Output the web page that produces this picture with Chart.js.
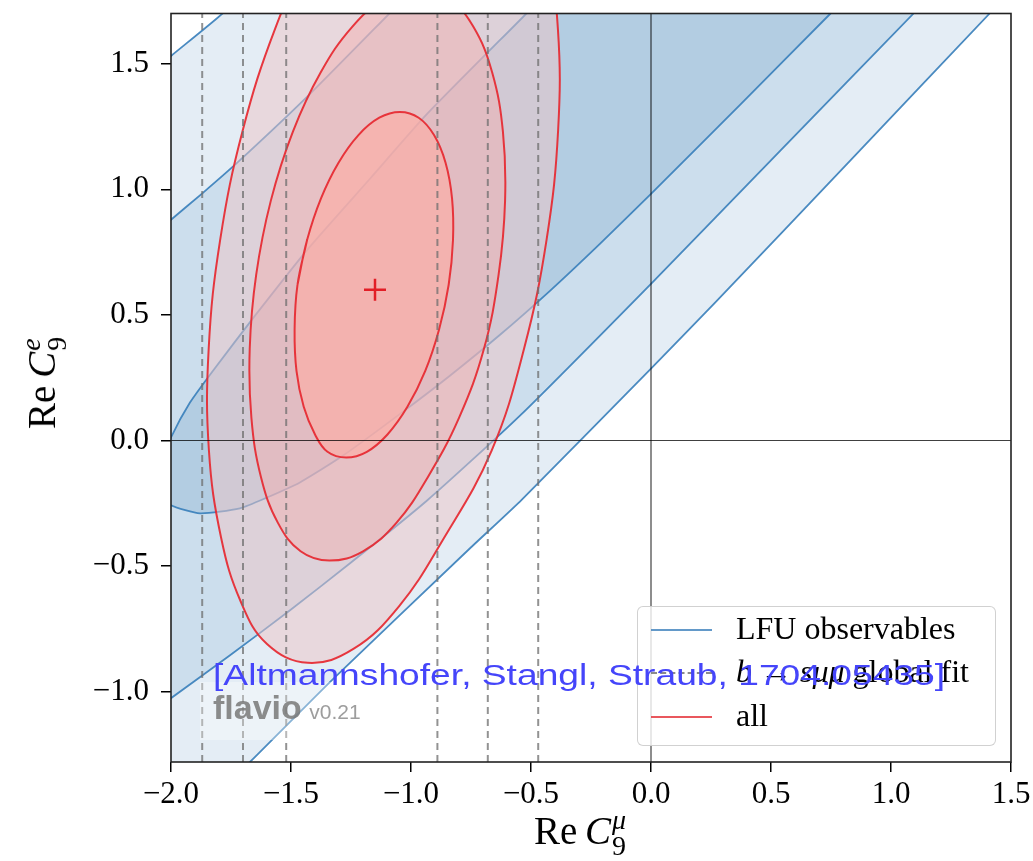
<!DOCTYPE html>
<html>
<head>
<meta charset="utf-8">
<script src="https://cdn.jsdelivr.net/npm/chart.js@4.4.1/dist/chart.umd.min.js"></script>
<style>
  body { margin: 0; background: #fff; }
  #wrap { position: relative; width: 1033px; height: 861px; }
  canvas { position: absolute; left: 0; top: 0; }
  .serif { font-family: "Liberation Serif", "DejaVu Serif", serif; color: #000; }
  #xtitle { position: absolute; left: 150px; width: 860px; top: 807px; text-align: center; font-size: 39px; line-height: 46px; white-space: nowrap; }
  #ytitle { position: absolute; left: 44px; top: 383px; transform: translate(-50%, -50%) rotate(-90deg); font-size: 39px; line-height: 46px; white-space: nowrap; }
  .ss { display: inline-block; vertical-align: -11px; font-size: 28px; line-height: 26px; margin-left: 1px; text-align: left; }
  .ss span { display: block; }
  #legend { position: absolute; left: 637px; top: 606px; width: 357px; height: 138px; border: 1px solid rgba(204,204,204,0.9); border-radius: 6px; background: rgba(255,255,255,0.8); }
  .row { position: absolute; left: 0; width: 100%; height: 0; }
  .swatch { position: absolute; left: 13px; width: 61px; top: -1px; height: 0; }
  .lab { position: absolute; left: 98px; top: -20px; font-size: 32px; line-height: 36px; white-space: nowrap; }
  #cite { position: absolute; left: 213px; top: 660px; font-family: "Liberation Sans", Arial, sans-serif; font-size: 30px; line-height: 30px; color: #4545fa; white-space: nowrap; transform: scaleX(1.24); transform-origin: 0 0; }
  #wmbox { position: absolute; left: 200px; top: 682px; width: 175px; height: 58px; background: rgba(255,255,255,0.35); }
  #wm { position: absolute; left: 213px; top: 690px; font-family: "Liberation Sans", Arial, sans-serif; white-space: nowrap; color: rgba(120,120,120,0.85); line-height: 34px; }
  #wm b { font-size: 34px; }
  #wm span { font-size: 21px; margin-left: 3px; color: rgba(140,140,140,0.85); }
</style>
</head>
<body>
<div id="wrap">
  <canvas id="chart" width="1033" height="861"></canvas>
  <div id="wmbox"></div>
  <div id="wm"><b>flavio</b> <span>v0.21</span></div>
  <div id="xtitle" class="serif">Re&#8201;<i>C</i><span class="ss"><span><i>μ</i></span><span>9</span></span></div>
  <div id="ytitle" class="serif">Re&#8201;<i>C</i><span class="ss"><span><i>e</i></span><span>9</span></span></div>
  <div id="legend" class="serif">
    <div class="row" style="top:23px"><span class="swatch" style="border-top:2px solid rgba(60,128,188,0.8)"></span><span class="lab">LFU observables</span></div>
    <div class="row" style="top:66px"><span class="swatch" style="border-top:2px dashed rgba(110,110,110,0.8)"></span><span class="lab"><i>b</i> → <i>sμμ</i> global fit</span></div>
    <div class="row" style="top:110px"><span class="swatch" style="border-top:2px solid rgba(228,45,52,0.8)"></span><span class="lab">all</span></div>
  </div>
  <div id="cite">[Altmannshofer, Stangl, Straub, 1704.05435]</div>
</div>
<script>
// axes
const xRange = [-2.0, 1.5];
const yRange = [-1.28, 1.70];
const xTicks = [-2.0, -1.5, -1.0, -0.5, 0.0, 0.5, 1.0, 1.5];
const yTicks = [-1.0, -0.5, 0.0, 0.5, 1.0, 1.5];

// b -> s mumu global fit, 3/2/1 sigma bounds on Re C9mu
const gfitBounds = [-1.87, -1.70, -1.52, -0.89, -0.68, -0.47];

// best fit point of "all"
const bestFit = [-1.15, 0.60];

// LFU observables contours, [Re C9mu, Re C9e] outlines (closed outside the frame)
const lfu3 = [
  [-2.2, 1.372], [-2.0, 1.531], [-1.783, 1.702], [-1.621, 1.857],
  [1.571, 1.857], [1.413, 1.702], [0.829, 1.113], [0.267, 0.549], [0.0, 0.286],
  [-0.538, -0.235], [-0.754, -0.429], [-1.325, -0.950], [-1.671, -1.28], [-1.838, -1.431],
  [-2.2, -1.431]
];
const lfu2 = [
  [-2.2, 0.716], [-2.0, 0.879], [-1.867, 0.986], [-1.725, 1.105], [-1.429, 1.372],
  [-1.088, 1.702], [-0.929, 1.857],
  [1.254, 1.857], [1.096, 1.702], [0.538, 1.153], [0.0, 0.624], [-0.546, 0.099],
  [-0.933, -0.239], [-1.254, -0.489], [-1.504, -0.676], [-1.754, -0.855], [-2.0, -1.026],
  [-2.2, -1.165]
];
const lfu1 = [
  [-2.046, -0.139], [-2.025, -0.06], [-2.0, 0.012], [-1.921, 0.151], [-1.825, 0.278],
  [-1.65, 0.497], [-1.429, 0.763], [-1.171, 1.042], [-0.933, 1.300], [-0.517, 1.702],
  [-0.358, 1.857],
  [0.908, 1.853], [0.746, 1.698], [0.371, 1.336], [0.0, 0.982], [-0.213, 0.783],
  [-0.421, 0.596], [-0.629, 0.421], [-0.838, 0.258], [-1.033, 0.115], [-1.283, -0.060],
  [-1.463, -0.167], [-1.6, -0.227], [-1.713, -0.270], [-1.879, -0.290], [-2.0, -0.258],
  [-2.033, -0.219]
];

// "all" contours (1, 2, 3 sigma)
const all1 = [
  [-1.473, 0.62], [-1.433, 0.798], [-1.375, 0.964], [-1.302, 1.106], [-1.219, 1.216],
  [-1.132, 1.285], [-1.046, 1.308], [-0.968, 1.285], [-0.904, 1.216], [-0.856, 1.106],
  [-0.829, 0.964], [-0.825, 0.798], [-0.843, 0.62], [-0.883, 0.442], [-0.941, 0.276],
  [-1.015, 0.134], [-1.098, 0.024], [-1.184, -0.045], [-1.270, -0.068], [-1.348, -0.045],
  [-1.400, 0.024], [-1.447, 0.134], [-1.477, 0.276], [-1.485, 0.442], [-1.473, 0.62],
  [-1.433, 0.798]
];
const all2 = [
  [-0.969, 1.80], [-0.844, 1.761], [-0.740, 1.647], [-0.662, 1.466], [-0.617, 1.23],
  [-0.608, 0.955], [-0.635, 0.66], [-0.696, 0.365], [-0.80, 0.09], [-0.93, -0.146],
  [-1.06, -0.327], [-1.20, -0.441], [-1.34, -0.478], [-1.46, -0.441], [-1.555, -0.327],
  [-1.625, -0.146], [-1.665, 0.09], [-1.672, 0.365], [-1.645, 0.66], [-1.584, 0.955],
  [-1.492, 1.23], [-1.376, 1.466], [-1.245, 1.647], [-1.106, 1.761], [-0.969, 1.80]
];
const all3 = [
  [-0.84, 2.48], [-0.673, 2.423], [-0.536, 2.255], [-0.439, 1.988], [-0.388, 1.64],
  [-0.387, 1.235], [-0.435, 0.80], [-0.529, 0.365], [-0.664, -0.04], [-0.87, -0.40],
  [-1.05, -0.66], [-1.24, -0.83], [-1.43, -0.885], [-1.60, -0.81], [-1.71, -0.64],
  [-1.791, -0.388], [-1.842, -0.04], [-1.843, 0.365], [-1.795, 0.80], [-1.701, 1.235],
  [-1.566, 1.64], [-1.401, 1.988], [-1.216, 2.255], [-1.025, 2.423], [-0.84, 2.48]
];

const toXY = arr => arr.map(p => ({x: p[0], y: p[1]}));
const fmt = v => v.toFixed(1).replace('-', '\u2212');

const blueLine = 'rgba(55,126,186,0.9)';
const redLine = 'rgba(230,40,48,0.92)';

function shape(data, fillColor, lineColor, tension, width, order) {
  return {
    data: toXY(data), showLine: true, fill: 'shape', backgroundColor: fillColor,
    borderColor: lineColor, borderWidth: width, pointRadius: 0, tension: tension, order: order
  };
}

const datasets = [
  {
    data: [{x: bestFit[0], y: bestFit[1]}], pointStyle: 'cross', pointRadius: 11,
    pointBorderWidth: 2.5, borderColor: 'rgb(226,30,38)', backgroundColor: 'rgb(226,30,38)', order: 0
  },
  {data: [{x: 0, y: yRange[0]}, {x: 0, y: yRange[1]}], showLine: true, borderColor: 'rgba(0,0,0,0.75)', borderWidth: 1.2, pointRadius: 0, order: 1},
  {data: [{x: xRange[0], y: 0}, {x: xRange[1], y: 0}], showLine: true, borderColor: 'rgba(0,0,0,0.75)', borderWidth: 1.2, pointRadius: 0, order: 1}
];
gfitBounds.forEach(b => {
  datasets.push({
    data: [{x: b, y: yRange[0]}, {x: b, y: yRange[1]}], showLine: true,
    borderColor: 'rgba(110,110,110,0.75)', borderWidth: 2, borderDash: [7, 5], pointRadius: 0, order: 2
  });
});
datasets.push(
  shape(all1, 'rgba(255,172,162,0.6)', redLine, 0.4, 2, 3),
  shape(all2, 'rgba(244,172,172,0.45)', redLine, 0.4, 2, 4),
  shape(all3, 'rgba(236,198,200,0.52)', redLine, 0.4, 2, 5),
  shape(lfu1, 'rgb(179,205,226)', blueLine, 0.2, 1.8, 6),
  shape(lfu2, 'rgb(204,222,237)', blueLine, 0.2, 1.8, 7),
  shape(lfu3, 'rgb(228,237,245)', blueLine, 0.2, 1.8, 8)
);

const frame = {
  id: 'frame',
  afterDatasetsDraw(chart) {
    const {ctx, chartArea: a} = chart;
    ctx.save();
    ctx.strokeStyle = '#222';
    ctx.lineWidth = 1.6;
    ctx.strokeRect(a.left, a.top, a.right - a.left, a.bottom - a.top);
    ctx.restore();
  }
};

const tickFont = {family: '"Liberation Serif", "DejaVu Serif", serif', size: 31};

new Chart(document.getElementById('chart'), {
  type: 'scatter',
  data: {datasets: datasets},
  options: {
    responsive: false,
    devicePixelRatio: 1,
    animation: false,
    layout: {padding: {top: 12, right: 22, left: 0, bottom: 0}},
    elements: {line: {capBezierPoints: false}},
    plugins: {legend: {display: false}, tooltip: {enabled: false}},
    scales: {
      x: {
        type: 'linear', min: xRange[0], max: xRange[1],
        afterFit: s => { s.height = 99; s.paddingLeft = 0; s.paddingRight = 0; },
        afterBuildTicks: s => { s.ticks = xTicks.map(v => ({value: v})); },
        ticks: {callback: fmt, color: '#000', font: tickFont, padding: 4, maxRotation: 0},
        grid: {drawOnChartArea: false, drawTicks: true, tickLength: 10, color: '#000', lineWidth: 1.5},
        border: {display: false}
      },
      y: {
        type: 'linear', min: yRange[0], max: yRange[1],
        afterFit: s => { s.width = 171; s.paddingTop = 0; s.paddingBottom = 0; },
        afterBuildTicks: s => { s.ticks = yTicks.map(v => ({value: v})); },
        ticks: {callback: fmt, color: '#000', font: tickFont, padding: 12},
        grid: {drawOnChartArea: false, drawTicks: true, tickLength: 10, color: '#000', lineWidth: 1.5},
        border: {display: false}
      }
    }
  },
  plugins: [frame]
});
</script>
</body>
</html>
